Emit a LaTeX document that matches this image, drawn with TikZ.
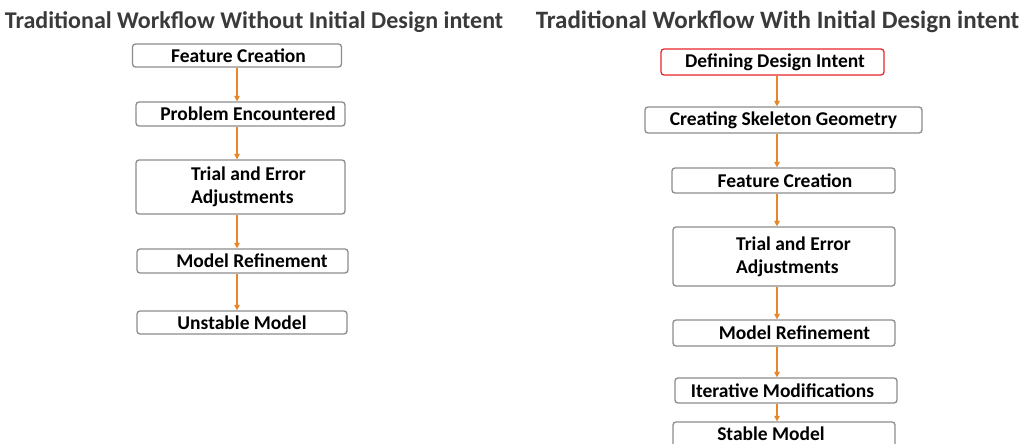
\documentclass[tikz,border=0pt]{standalone}
\usepackage{fontspec}
\setmainfont{Carlito}
\usetikzlibrary{arrows.meta}
\definecolor{boxgray}{HTML}{8C8C8C}
\definecolor{flow}{HTML}{E8862A}
\definecolor{intent}{HTML}{E8262B}
\definecolor{head}{HTML}{3A3A3A}
\newcommand{\sh}[1]{\hspace*{#1pt}}
\begin{document}
\begin{tikzpicture}[x=1pt,y=-1pt]
			\tikzstyle{b} = [draw=boxgray, line width=1.3pt, rounded corners=3pt, fill=white, inner sep=0pt, align=left, font=\fontsize{19.5}{23}\selectfont\bfseries]
			\tikzstyle{t} = [font=\fontsize{24}{27}\selectfont\bfseries, text=head]
			\tikzstyle{a} = [line width=1.6pt, flow, -{Triangle[length=5.5pt,width=5.5pt]}]
			\useasboundingbox (0,0) rectangle (1029,444);
			\fill [white] (0,0) rectangle (1029,444);

			\node [t] (tl) at (254,22) {Traditional Workflow Without Initial Design intent};
			\node [t, font=\fontsize{25}{28}\selectfont\bfseries] (tr) at (777.5,22) {Traditional Workflow With Initial Design intent};

			\node [b, minimum width=209, minimum height=23] (l1) at (237,55.5) {\sh{3}Feature Creation};
			\node [b, minimum width=209, minimum height=24] (l2) at (240.5,114) {\sh{15}Problem Encountered};
			\node [b, minimum width=209, minimum height=54] (l3) at (240.5,187) {\sh{16}Trial and Error\\\sh{16}Adjustments};
			\node [b, minimum width=211, minimum height=24] (l4) at (242.5,261) {\sh{19}Model Refinement};
			\node [b, minimum width=210, minimum height=23] (l5) at (242,322.5) {Unstable Model};

			\node [b, draw=intent, minimum width=223, minimum height=26] (r1) at (772.5,62) {\sh{5}Defining Design Intent};
			\node [b, minimum width=277, minimum height=26] (r2) at (783.5,120) {Creating Skeleton Geometry};
			\node [b, minimum width=223, minimum height=25] (r3) at (783.5,180.5) {\sh{3}Feature Creation};
			\node [b, minimum width=222, minimum height=59] (r4) at (784,256.5) {\sh{19}Trial and Error\\\sh{19}Adjustments};
			\node [b, minimum width=222, minimum height=26] (r5) at (784,333) {\sh{21}Model Refinement};
			\node [b, minimum width=222, minimum height=25] (r6) at (786,390.5) {Iterative Modifications\sh{7}};
			\node [b, minimum width=222, minimum height=26, text depth=0pt] (r7) at (784,435) {\raisebox{2pt}{Stable Model}\sh{26}};

			\draw [a] (l1.south) -- (l1.south |- l2.north);
			\draw [a] (l1.south |- l2.south) -- (l1.south |- l3.north);
			\draw [a] (l1.south |- l3.south) -- (l1.south |- l4.north);
			\draw [a] (l1.south |- l4.south) -- (l1.south |- l5.north);

			\draw [a] ([xshift=4.5pt]r1.south) -- ([xshift=4.5pt]r1.south |- r2.north);
			\draw [a] ([xshift=4.5pt]r1.south |- r2.south) -- ([xshift=4.5pt]r1.south |- r3.north);
			\draw [a] ([xshift=4.5pt]r1.south |- r3.south) -- ([xshift=4.5pt]r1.south |- r4.north);
			\draw [a] ([xshift=4.5pt]r1.south |- r4.south) -- ([xshift=4.5pt]r1.south |- r5.north);
			\draw [a] ([xshift=4.5pt]r1.south |- r5.south) -- ([xshift=4.5pt]r1.south |- r6.north);
			\draw [a] ([xshift=4.5pt]r1.south |- r6.south) -- ([xshift=4.5pt]r1.south |- r7.north);

		\end{tikzpicture}
\end{document}
